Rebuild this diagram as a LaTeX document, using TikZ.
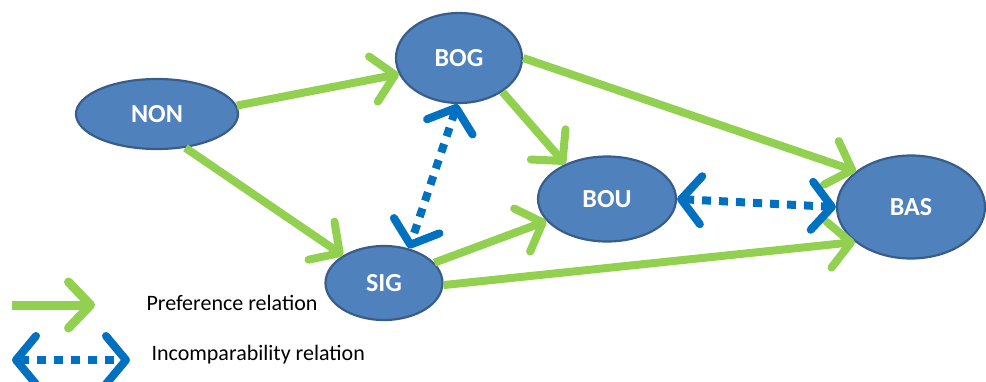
\documentclass[tikz,border=0pt]{standalone}
\usepackage{fontspec}
\setmainfont{Carlito}
\usetikzlibrary{arrows.meta}
\usetikzlibrary{shapes.geometric}

\definecolor{nodefill}{HTML}{4F81BD}
\definecolor{nodeline}{HTML}{385D8A}
\definecolor{prefgreen}{HTML}{92D050}
\definecolor{incblue}{HTML}{0070C0}

\begin{document}
\begin{tikzpicture}[x=1pt, y=-1pt,
    state/.style={ellipse, draw=nodeline, fill=nodefill, line width=2.2pt, inner sep=0pt,
      text=white, font=\fontsize{26}{30}\selectfont\bfseries},
    pref/.style={draw=prefgreen, line width=8pt,
      -{Straight Barb[length=22pt, width=46pt, round]}},
    incomp/.style={draw=incblue, line width=8pt, dash pattern=on 9pt off 8pt,
      {Straight Barb[length=20pt, width=48pt, round]}-{Straight Barb[length=20pt, width=48pt, round]}},
    legend/.style={anchor=west, font=\fontsize{22}{26}\selectfont}]
  \useasboundingbox (0,0) rectangle (986,381);

  \node[state, minimum width=162pt, minimum height=70pt] (non) at (157,114) {NON};
  \node[state, minimum width=126pt, minimum height=90pt] (bog) at (459,58) {BOG};
  \node[state, minimum width=138pt, minimum height=85pt] (bou) at (607,199) {BOU};
  \node[state, minimum width=117pt, minimum height=74pt] (sig) at (384,283) {SIG};
  \node[state, minimum width=148pt, minimum height=103pt] (bas) at (911,207) {BAS};

  \draw[pref] (non.6) -- (bog.-165);
  \draw[pref] (non.-50) -- (sig.146);
  \draw[pref] (bog.east) -- (bas.147);
  \draw[pref] (bog.-38) -- (bou.140);
  \draw[pref] (sig.22) -- (bou.-160);
  \draw[pref] (sig.-2) -- (bas.-148);

  \draw[incomp] (bog.-92) -- (sig.54);
  \draw[incomp] (bou.east) -- (bas.west);

  % legend
  \coordinate (p1) at (12,305);
  \coordinate (p2) at (95,305);
  \coordinate (i1) at (12,360);
  \coordinate (i2) at (130,360);
  \draw[pref, line width=9pt] (p1) -- (p2);
  \draw[incomp] (i1) -- (i2);
  \node[legend] (preftext) at (143,303) {Preference relation};
  \node[legend] (inctext) at (148,355) {Incomparability relation};
\end{tikzpicture}
\end{document}
